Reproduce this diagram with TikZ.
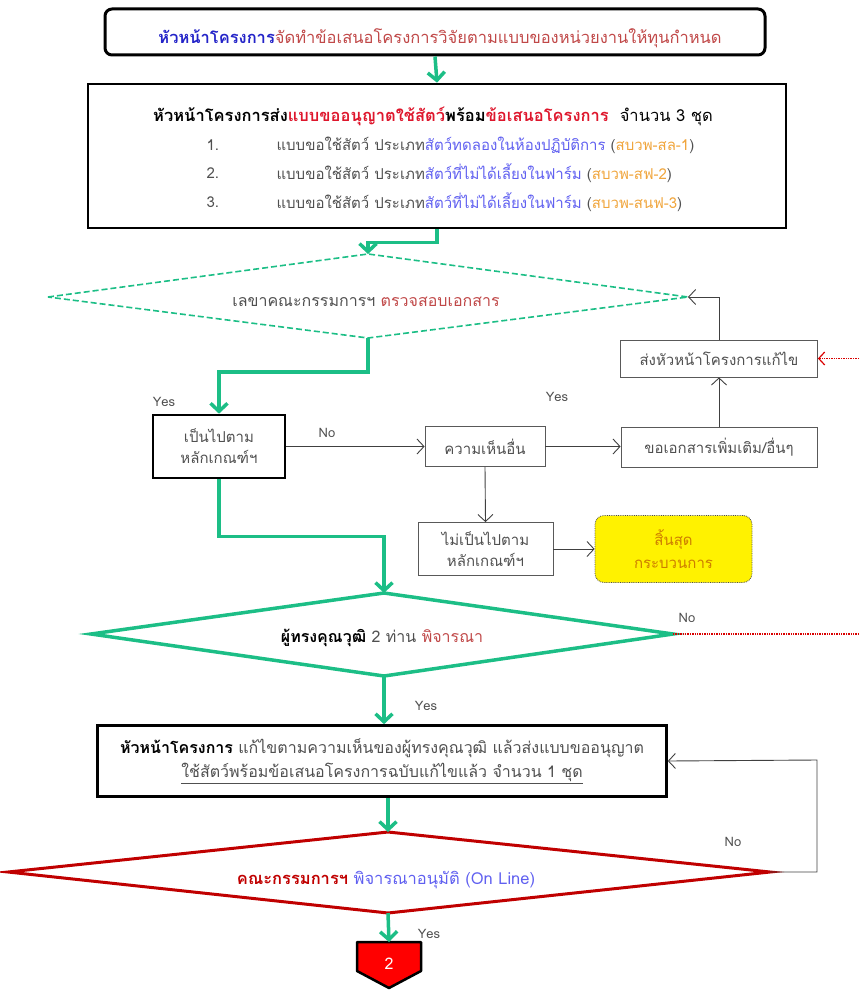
\documentclass[tikz,border=0pt]{standalone}
\usepackage{fontspec}
\setmainfont[Script=Thai]{Loma}
\usetikzlibrary{arrows.meta,calc}

\definecolor{flowgreen}{RGB}{28,190,134}
\definecolor{txtgray}{RGB}{80,80,80}
\definecolor{txtred}{RGB}{192,72,72}
\definecolor{hotred}{RGB}{222,22,44}
\definecolor{txtblue}{RGB}{36,36,200}
\definecolor{liteblue}{RGB}{96,96,240}
\definecolor{codeorange}{RGB}{240,165,60}
\definecolor{endorange}{RGB}{205,125,0}
\definecolor{darkred}{RGB}{192,0,0}

\begin{document}
\begin{tikzpicture}[x=1pt, y={(0pt,-1pt)},
        font=\fontsize{16}{22}\selectfont,
        greenarrow/.style={flowgreen, line width=3.5pt, -{Straight Barb[length=8pt,width=17pt,line width=3.5pt]}},
        thinarrow/.style={black!75, line width=0.9pt, -{Straight Barb[length=7pt,width=15pt]}},
        reddots/.style={red!85!black, densely dotted, line width=1.4pt},
        redarrow/.style={reddots, -{Straight Barb[length=6pt,width=13pt,line width=1.2pt]}},
        boldbox/.style={draw, line width=2.6pt, inner sep=0pt, align=center},
        thinbox/.style={draw=black!65, line width=0.8pt, inner sep=0pt, align=center, text=txtgray},
        small/.style={font=\fontsize{15}{21}\selectfont},
        big/.style={font=\fontsize{16.5}{22}\selectfont},
        tag/.style={text=txtgray, font=\fontsize{13}{15}\selectfont, inner sep=1pt}
    ]
        \useasboundingbox (0,0) rectangle (859,990);

        % Define corners of the three decision diamonds
        \coordinate (D1_l) at (48,297);
        \coordinate (D1_t) at (368,254);
        \coordinate (D1_r) at (688,297);
        \coordinate (D1_b) at (368,338);

        \coordinate (D2_l) at (91,634);
        \coordinate (D2_t) at (384,593);
        \coordinate (D2_r) at (673,634);
        \coordinate (D2_b) at (384,676);

        \coordinate (D3_l) at (8,872);
        \coordinate (D3_t) at (388,832);
        \coordinate (D3_r) at (770,872);
        \coordinate (D3_b) at (388,913);

        \coordinate (edge) at (859,0);
        \coordinate (loop) at (817,760);

        % Boxes
        \node[boldbox, rounded corners=7pt, line width=3pt, minimum width=660pt, minimum height=46pt] (top) at (435,32) {};
        \node[big] (topText) at (440,38)
            {\textbf{\color{txtblue}หัวหน้าโครงการ}{\color{txtred}จัดทำข้อเสนอโครงการวิจัยตามแบบของหน่วยงานให้ทุนกำหนด}};

        \node[boldbox, minimum width=698pt, minimum height=144pt] (proposal) at (437,156) {};
        \node[big] (req) at (433,116)
            {\textbf{หัวหน้าโครงการส่ง{\color{hotred}แบบขออนุญาตใช้สัตว์}พร้อม{\color{hotred}ข้อเสนอโครงการ}}\ \ จำนวน 3 ชุด};
        \foreach \y/\n/\kind/\code in {145/1/สัตว์ทดลองในห้องปฏิบัติการ/สบวพ-สล-1,
                                       173/2/สัตว์ที่ไม่ได้เลี้ยงในฟาร์ม/สบวพ-สฟ-2,
                                       202/3/สัตว์ที่ไม่ได้เลี้ยงในฟาร์ม/สบวพ-สนฟ-3}{
            \node[small, anchor=west, text=txtgray] (num\n) at (203,\y) {\n.};
            \node[small, anchor=west, text=txtgray] (form\n) at (273,\y)
                {แบบขอใช้สัตว์ ประเภท{\color{liteblue}\kind} ({\color{codeorange}\code})};
        }

        % Draw diamonds
        \draw[flowgreen, line width=1.6pt, dashed, dash pattern=on 6pt off 3pt] (D1_l) -- (D1_t) -- (D1_r) -- (D1_b) -- cycle;
        \node (check) at (366,302) {{\color{txtgray}เลขาคณะกรรมการฯ} {\color{txtred}ตรวจสอบเอกสาร}};

        \draw[flowgreen, line width=3.5pt, line join=miter] (D2_l) -- (D2_t) -- (D2_r) -- (D2_b) -- cycle;
        \node (expert) at (382,638) {\textbf{ผู้ทรงคุณวุฒิ} {\color{txtgray}2 ท่าน} {\color{txtred}พิจารณา}};

        \draw[darkred, line width=3pt, line join=miter] (D3_l) -- (D3_t) -- (D3_r) -- (D3_b) -- cycle;
        \node[big] (approve) at (386,880) {\textbf{\color{darkred}คณะกรรมการฯ} {\color{liteblue}พิจารณาอนุมัติ (On Line)}};

        \node[boldbox, small, minimum width=132pt, minimum height=63pt, text=txtgray] (crit) at (219,446.5) {เป็นไปตาม\\หลักเกณฑ์ฯ};
        \node[thinbox, small, minimum width=120pt, minimum height=40pt] (other) at (485,446.5) {ความเห็นอื่น};
        \node[thinbox, small, minimum width=135pt, minimum height=53pt] (notmet) at (485.5,549) {ไม่เป็นไปตาม\\หลักเกณฑ์ฯ};
        \node[draw=black!70, densely dotted, fill=yellow, rounded corners=9pt, line width=0.8pt, minimum width=157pt, minimum height=67pt,
              align=center, small, text=endorange] (stop) at (673.5,549) {สิ้นสุด\\[2pt]กระบวนการ};
        \node[thinbox, small, minimum width=196pt, minimum height=40pt] (docs) at (719,447) {ขอเอกสารเพิ่มเติม/อื่นๆ};
        \node[thinbox, small, minimum width=197pt, minimum height=37pt] (send) at (719,358.5) {ส่งหัวหน้าโครงการแก้ไข};

        \node[boldbox, minimum width=569pt, minimum height=71pt] (revise) at (382,761)
            {\textbf{หัวหน้าโครงการ} {\color{txtgray}แก้ไขตามความเห็นของผู้ทรงคุณวุฒิ แล้วส่งแบบขออนุญาต}\\[2pt]
             {\color{txtgray}\underline{ใช้สัตว์พร้อมข้อเสนอโครงการฉบับแก้ไขแล้ว จำนวน 1 ชุด}}};

        % Off-page connector
        \filldraw[fill=red, draw=black, line width=2.5pt, line join=round]
            (357,942) -- (421,942) -- (421,971) -- (389,988) -- (357,971) -- cycle;
        \node[text=white] (next) at (389,964) {2};
        \coordinate (next_t) at (389,942);

        % Green flow
        \draw[greenarrow] (top.south) -- (proposal.north);
        \draw[greenarrow] (proposal.south) -- ++(0,13) -| (D1_t);
        \draw[greenarrow] (D1_b) -- ++(0,34) -| (crit.north);
        \draw[greenarrow] (crit.south) -- ++(0,57) -| (D2_t);
        \draw[greenarrow] (D2_b) -- (D2_b |- revise.north);
        \draw[greenarrow] (revise.south -| D3_t) -- (D3_t);
        \draw[greenarrow] (D3_b) -- (next_t);

        % Thin arrows
        \draw[thinarrow] (crit.east) -- (other.west);
        \draw[thinarrow] (other.south) -- (notmet.north);
        \draw[thinarrow] (notmet.east) -- (stop.west);
        \draw[thinarrow] (other.east) -- (other.east -| docs.west);
        \draw[thinarrow] (docs.north) -- (send.south);
        \draw[thinarrow] (send.north) |- (D1_r);
        \draw[thinarrow] (D3_r) -| (loop) -- (revise.east);

        % Red dotted
        \draw[reddots] (D2_r) -- (D2_r -| edge);
        \draw[redarrow] (send.east -| edge) -- (send.east);

        % Labels
        \node[tag] (yes1) at (164,402) {Yes};
        \node[tag] (no1) at (327,433) {No};
        \node[tag] (yes2) at (557,397) {Yes};
        \node[tag] (no2) at (687,618) {No};
        \node[tag] (yes3) at (426,706) {Yes};
        \node[tag] (no3) at (733,842) {No};
        \node[tag] (yes4) at (429,934) {Yes};

    \end{tikzpicture}
\end{document}
